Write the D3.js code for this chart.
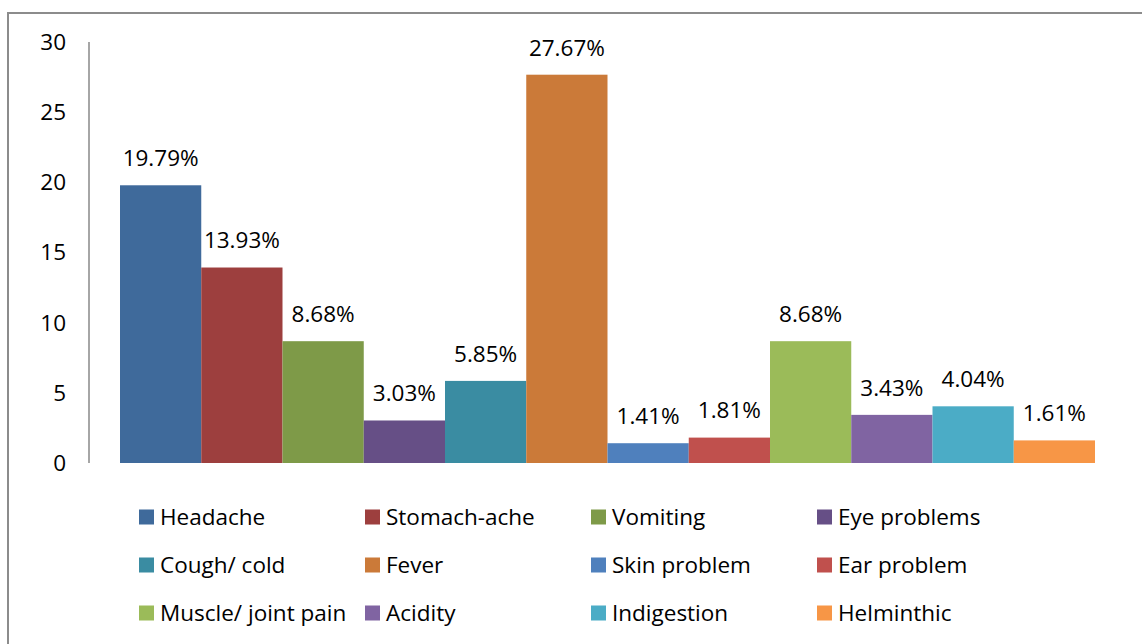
<!DOCTYPE html>
<html>
<head>
<meta charset="utf-8">
<script src="https://cdn.jsdelivr.net/npm/d3@7"></script>
<style>
  body { margin: 0; background: #fff; }
  text { font-family: "Open Sans", "Noto Sans", sans-serif; fill: #000; }
</style>
</head>
<body>
<script>
var w = 1142;
var h = 644;

// data
var categories = ["Headache", "Stomach-ache", "Vomiting", "Eye problems",
                  "Cough/ cold", "Fever", "Skin problem", "Ear problem",
                  "Muscle/ joint pain", "Acidity", "Indigestion", "Helminthic"];
var values = [19.79, 13.93, 8.68, 3.03, 5.85, 27.67, 1.41, 1.81, 8.68, 3.43, 4.04, 1.61];
var colors = ["#3F6A9B", "#9D3F3E", "#7E9A48", "#664F86", "#3A8CA2", "#CB7A39",
              "#4F80BD", "#C0504D", "#9BBB59", "#8064A2", "#4BACC6", "#F79646"];
var yTicks = [0, 5, 10, 15, 20, 25, 30];

// plot area
var plotLeft = 120, plotRight = 1095;
var plotTop = 42, plotBottom = 463;
var fs = 22.5;

var svg = d3.select("body")
            .append("svg")
            .attr("width", w)
            .attr("height", h);

// outer frame
svg.append("rect")
   .attr("x", 8)
   .attr("y", 13)
   .attr("width", w + 20)
   .attr("height", h + 20)
   .attr("fill", "none")
   .attr("stroke", "#8c8c8c")
   .attr("stroke-width", 2);

var x = d3.scaleBand()
          .domain(categories)
          .range([plotLeft, plotRight])
          .padding(0);

var y = d3.scaleLinear()
          .domain([0, 30])
          .range([plotBottom, plotTop]);

// y axis line
svg.append("line")
   .attr("x1", 89).attr("x2", 89)
   .attr("y1", y(30)).attr("y2", y(0))
   .attr("stroke", "#a6a6a6")
   .attr("stroke-width", 2);

svg.append("g").selectAll("text")
   .data(yTicks)
   .enter()
   .append("text")
   .attr("x", 66)
   .attr("y", function(d){ return y(d); })
   .attr("dy", "0.35em")
   .attr("text-anchor", "end")
   .attr("font-size", fs)
   .text(function(d){ return d; });

// bars
svg.append("g").selectAll("rect")
   .data(values)
   .enter()
   .append("rect")
   .attr("x", function(d, i){ return x(categories[i]); })
   .attr("y", function(d){ return y(d); })
   .attr("width", x.bandwidth())
   .attr("height", function(d){ return y(0) - y(d); })
   .attr("fill", function(d, i){ return colors[i]; });

// value labels
svg.append("g").selectAll("text")
   .data(values)
   .enter()
   .append("text")
   .attr("x", function(d, i){ return x(categories[i]) + x.bandwidth() / 2; })
   .attr("y", function(d){ return y(d) - 27; })
   .attr("dy", "0.35em")
   .attr("text-anchor", "middle")
   .attr("font-size", fs)
   .text(function(d){ return d.toFixed(2) + "%"; });

// legend, 4 columns x 3 rows
var legCol0 = 139, legColStep = 226;
var legRow0 = 517, legRowStep = 48;

var leg = svg.append("g").selectAll("g")
             .data(categories)
             .enter()
             .append("g")
             .attr("transform", function(d, i){
                 var cx = legCol0 + (i % 4) * legColStep;
                 var cy = legRow0 + Math.floor(i / 4) * legRowStep;
                 return "translate(" + cx + "," + cy + ")";
             });

leg.append("rect")
   .attr("x", 0)
   .attr("y", -7.5)
   .attr("width", 15)
   .attr("height", 15)
   .attr("fill", function(d, i){ return colors[i]; });

leg.append("text")
   .attr("x", 21)
   .attr("y", 0)
   .attr("dy", "0.35em")
   .attr("font-size", fs)
   .text(function(d){ return d; });
</script>
</body>
</html>
